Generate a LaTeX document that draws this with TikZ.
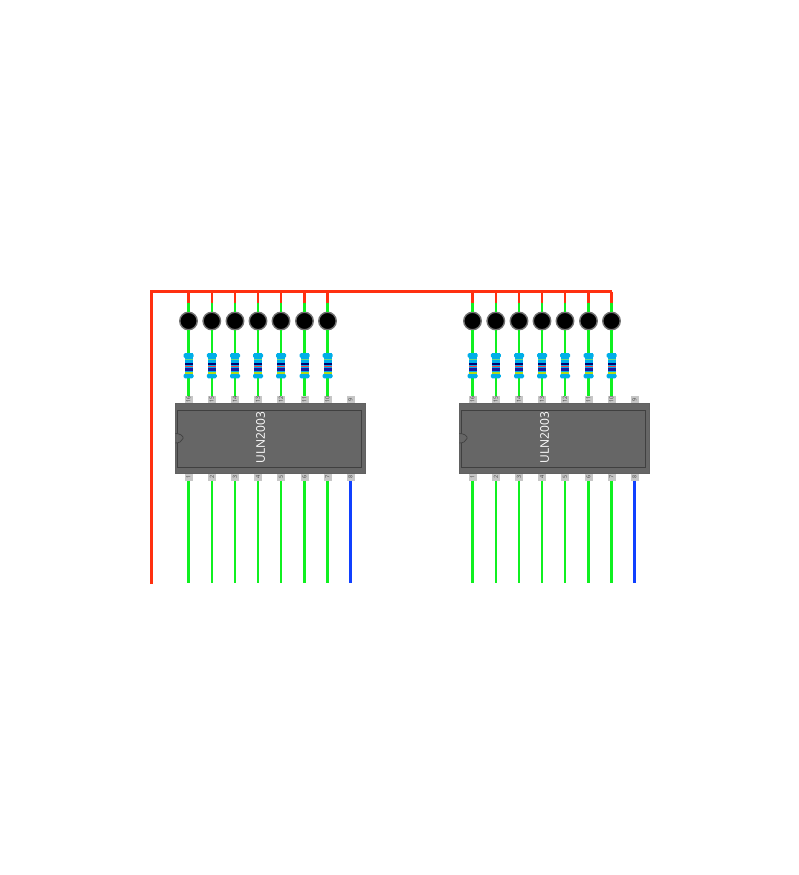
\documentclass[tikz,border=0pt]{standalone}
\usepackage{fontspec}
\setsansfont{Open Sans}
\usepackage{xcolor}
\definecolor{wirered}{HTML}{FF3010}
\definecolor{wiregreen}{HTML}{10F020}
\definecolor{wireblue}{HTML}{1040FF}
\definecolor{capblue}{HTML}{00AEE8}
\definecolor{chipgray}{HTML}{666666}
\tikzset{
  redwire/.style={draw=wirered,line width=2.5pt},
  greenwire/.style={draw=wiregreen,line width=2.6pt},
  bluewire/.style={draw=wireblue,line width=2.4pt},
  lamp/.style={circle,fill=black,draw=black!55,line width=1.4pt,minimum size=17.5pt,inner sep=0pt},
  resbody/.style={rectangle,fill=capblue,minimum width=8pt,minimum height=25pt,inner sep=0pt},
  pinbox/.style={rectangle,fill=gray!45,minimum width=8pt,minimum height=7pt,inner sep=0pt,
    text=black!75,font=\sffamily\fontsize{5.5}{6}\selectfont},
}
\begin{document}
\begin{tikzpicture}[x=1pt,y=-1pt]
\useasboundingbox (0,0) rectangle (799,875);
\coordinate (railtl) at (151.5,291.5);
\coordinate (railbl) at (151.5,584);
\foreach \ic/\dx in {a/0,b/284}{
\begin{scope}[xshift=\dx pt]
    \filldraw[fill=chipgray,draw=black!62,line width=.6pt] (175.5,403.2) rectangle (364.8,473.3);
    \draw[black!75,line width=.7pt] (177.5,410.8) rectangle (361.7,467.3);
    \filldraw[fill=chipgray,draw=black!75,line width=.7pt] (175.5,433.5) .. controls (180,433.5) and (184,436) .. (183,438.5) .. controls (182,441.5) and (179,443) .. (175.5,443);
    \node[text=white,rotate=90,font=\sffamily\fontsize{12}{14}\selectfont,inner sep=0pt] (name\ic) at (260.5,437.5) {ULN2003};
    \foreach \n/\x in {1/188.5,2/211.8,3/235,4/258,5/281,6/304.5,7/327.5,8/350.5}{
        \pgfmathtruncatemacro{\m}{17-\n}
        \node[pinbox] (bot\ic\n) at (\x,477) {\rotatebox{90}{\n}};
        \node[pinbox] (top\ic\n) at (\x,399.5) {\rotatebox{90}{\m}};
        \coordinate (end\ic\n) at (\x,582.5);
    }
    \foreach \n in {1,...,7}{
        \draw[greenwire] (bot\ic\n.south)--(end\ic\n);
    }
    \draw[bluewire] (bot\ic8.south)--(end\ic8);
    \foreach \n/\x in {1/188.5,2/211.8,3/235,4/258,5/281,6/304.5,7/327.5}{
        \node[lamp] (led\ic\n) at (\x,321) {};
        \node[resbody] (res\ic\n) at (\x,365.5) {};
        \coordinate (join\ic\n) at (\x,303);
        \coordinate (rail\ic\n) at (\x,291.5);
        \draw[redwire] (rail\ic\n)--(join\ic\n);
        \draw[greenwire] (join\ic\n)--(led\ic\n.north);
        \draw[greenwire] (led\ic\n.south)--(res\ic\n.north);
        \draw[greenwire] (res\ic\n.south)--(top\ic\n.north);
        \fill[capblue,rounded corners=1.5pt] (\x-5,353) rectangle (\x+5,358);
        \fill[capblue,rounded corners=1.5pt] (\x-5,373.6) rectangle (\x+5,378.4);
        \fill[teal!50!green!60] (\x-4,358.6) rectangle (\x+4,360);
        \fill[blue!45!black] (\x-4,363.2) rectangle (\x+4,365.2);
        \fill[red!75!white] (\x-4,365.8) rectangle (\x+4,366.9);
        \fill[blue!60!black!90] (\x-4,368.4) rectangle (\x+4,370.8);
        \fill[yellow!70!green] (\x-4,372.2) rectangle (\x+4,373.6);
    }
\end{scope}
}
\draw[redwire,line join=miter] (railbl)--(railtl)--(railb7);
\end{tikzpicture}
\end{document}
